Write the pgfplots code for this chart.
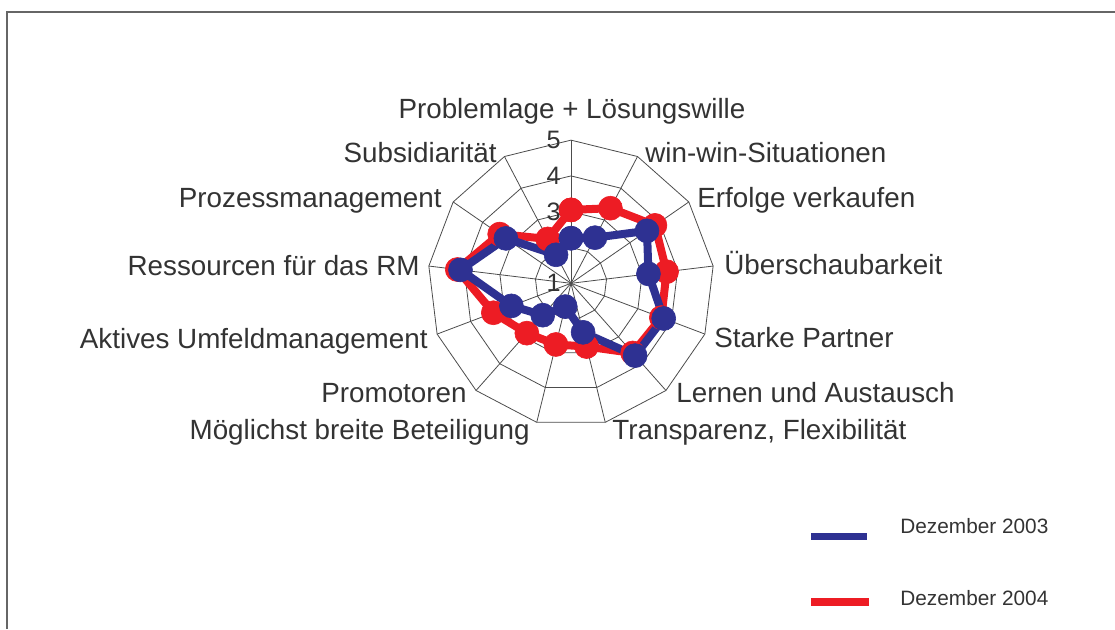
\documentclass[border=0pt]{standalone}
\usepackage{fontspec}
\setmainfont{Liberation Sans}
\usepackage{pgfplots}
\usepackage{pgfplotstable}
\pgfplotsset{compat=1.18}
\usepgfplotslibrary{polar}

\definecolor{blue03}{HTML}{2E3192}
\definecolor{red04}{HTML}{ED1C24}
\definecolor{txt}{HTML}{333333}
\definecolor{frame}{HTML}{666666}

\tikzset{tl/.style={anchor=east, inner sep=0, text=txt, font=\fontsize{12.6}{14}\selectfont, xshift=-5pt}}
\pgfplotsset{
  ring/.style={draw=black!70, line width=0.4pt, mark=none},
  series/.style={line width=4pt, line join=round, mark=*, mark size=6pt,
                 mark options={line width=0.3pt}},
}

% angle (deg, clockwise from top) and ratings, last row closes the polygon
\pgfplotstableread{
a          d2003  d2004
90         2.26   3.05
62.3077    2.44   3.37
34.6154    3.58   3.85
6.9231     3.18   3.69
-20.7692   3.77   3.70
-48.4615   3.70   3.60
-76.1538   2.41   2.82
-103.8462  1.67   2.76
-131.5385  2.19   2.86
-159.2308  2.78   3.32
-186.9231  4.11   4.20
-214.6154  3.21   3.42
-242.3077  1.90   2.40
-270       2.26   3.05
}\radar

\begin{document}
\begin{tikzpicture}
\begin{polaraxis}[
    width=143.2pt, height=143.2pt,
    scale only axis,
    ymin=0, ymax=4,
    hide axis,
    clip=false,
]
% grid: 13-sided rings for the values 2 to 5 and the spokes
\pgfplotsinvokeforeach{1,2,3,4}{
  \addplot[ring] table[x=a, y expr=#1] {\radar};
}
\pgfplotsinvokeforeach{90,62.3077,34.6154,6.9231,-20.7692,-48.4615,-76.1538,
  -103.8462,-131.5385,-159.2308,-186.9231,-214.6154,-242.3077}{
  \addplot[ring] coordinates {(#1,0) (#1,4)};
}

\addplot[series, color=red04] table[x=a, y expr=\thisrow{d2004}-1] {\radar};
\addplot[series, color=blue03] table[x=a, y expr=\thisrow{d2003}-1] {\radar};

\coordinate (C) at (axis cs:0,0);
\fill[black!70] (axis cs:0,0) circle (0.8pt);
\node[tl] at (axis cs:90,0) {1};
\node[tl] at (axis cs:90,1) {2};
\node[tl] at (axis cs:90,2) {3};
\node[tl] at (axis cs:90,3) {4};
\node[tl] at (axis cs:90,4) {5};
\end{polaraxis}

% labels, legend and frame in image pixels (origin top left, y down)
\begin{scope}[shift={(C)}, xshift=-285.5pt, yshift=141.65pt, x=0.5pt, y=-0.5pt]
\path[use as bounding box] (0,0) rectangle (1115,629);
\draw[frame, line width=0.65pt] (7,629) -- (7,12) -- (1115,12);

\begin{scope}[every node/.style={inner sep=0, text=txt, font=\fontsize{13.9}{16}\selectfont}]
\node[anchor=base] at (572,118) {Problemlage + Lösungswille};
\node[anchor=base west] at (645,162.5) {win-win-Situationen};
\node[anchor=base west] at (697,207.5) {Erfolge verkaufen};
\node[anchor=base west] at (724,274.5) {Überschaubarkeit};
\node[anchor=base west] at (714,347.5) {Starke Partner};
\node[anchor=base west] at (676,402.5) {Lernen und Austausch};
\node[anchor=base west] at (612,439.5) {Transparenz, Flexibilität};
\node[anchor=base east] at (530,439.5) {Möglichst breite Beteiligung};
\node[anchor=base east] at (467,402.5) {Promotoren};
\node[anchor=base east] at (428,348) {Aktives Umfeldmanagement};
\node[anchor=base east] at (420,275) {Ressourcen für das RM};
\node[anchor=base east] at (442,207.5) {Prozessmanagement};
\node[anchor=base east] at (497,162.5) {Subsidiarität};
\end{scope}

\draw[blue03, line width=3.8pt] (811,536.5) -- (867,536.5);
\draw[red04, line width=3.8pt] (811,602) -- (869,602);
\begin{scope}[every node/.style={inner sep=0, text=txt, font=\fontsize{10.4}{12}\selectfont, anchor=base west}]
\node at (900,533) {Dezember 2003};
\node at (900,605) {Dezember 2004};
\end{scope}
\end{scope}
\end{tikzpicture}
\end{document}
